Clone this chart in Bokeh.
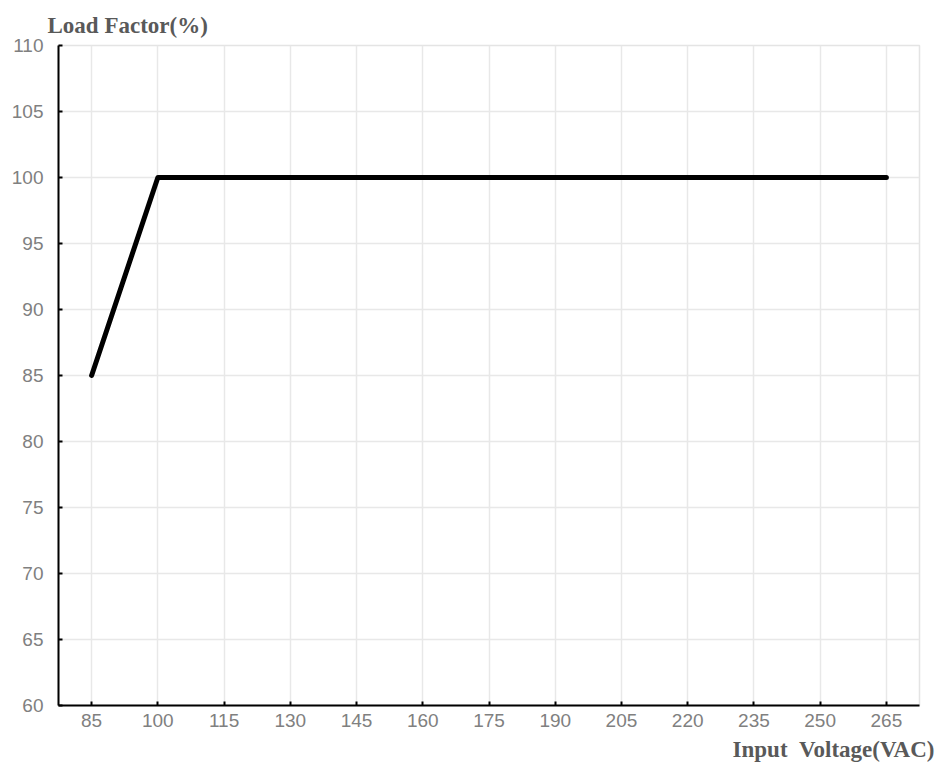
from bokeh.plotting import figure
from bokeh.models import Range1d, FixedTicker, Title
from bokeh.embed import file_html
from bokeh.resources import INLINE

voltage = [85, 100, 265]
load_factor = [85, 100, 100]
x_ticks = [85, 100, 115, 130, 145, 160, 175, 190, 205, 220, 235, 250, 265]
y_ticks = [60, 65, 70, 75, 80, 85, 90, 95, 100, 105, 110]

p = figure(frame_width=861, frame_height=660, output_backend="svg", toolbar_location=None,
           x_range=Range1d(77.5, 272.5), y_range=Range1d(60, 110),
           min_border_left=58, min_border_right=18, min_border_top=45, min_border_bottom=60)

p.outline_line_color = "#e4e4e4"
p.outline_line_width = 1.5
p.background_fill_color = "white"
p.border_fill_color = "white"

for ax, ticks in ((p.xaxis, x_ticks), (p.yaxis, y_ticks)):
    ax.ticker = FixedTicker(ticks=ticks)
    ax.axis_line_color = "black"
    ax.axis_line_width = 2
    ax.major_tick_line_color = "black"
    ax.major_tick_line_width = 2
    ax.major_tick_in = 4
    ax.major_tick_out = 0
    ax.minor_tick_line_color = None
    ax.major_label_text_color = "#808080"
    ax.major_label_text_font = "Liberation Sans"
    ax.major_label_text_font_size = "19px"

p.xaxis.major_label_standoff = 8
p.yaxis.major_label_standoff = 15

p.xgrid.ticker = FixedTicker(ticks=x_ticks)
p.ygrid.ticker = FixedTicker(ticks=y_ticks)
for g in (p.xgrid, p.ygrid):
    g.grid_line_color = "#e8e8e8"
    g.grid_line_width = 1.5

p.line(voltage, load_factor, line_color="black", line_width=5, line_cap="round", line_join="round")

top_title = Title(text="Load Factor(%)", align="left", offset=-11, standoff=16,
                  text_font="Liberation Serif", text_font_style="bold", text_font_size="23px",
                  text_color="#595959")
p.add_layout(top_title, "above")

bottom_title = Title(text="Input\u00a0\u00a0Voltage(VAC)", align="right", offset=-15, standoff=10,
                     text_font="Liberation Serif", text_font_style="bold", text_font_size="23px",
                     text_color="#595959")
p.add_layout(bottom_title, "below")

open("out.html", "w").write(file_html(p, INLINE))
